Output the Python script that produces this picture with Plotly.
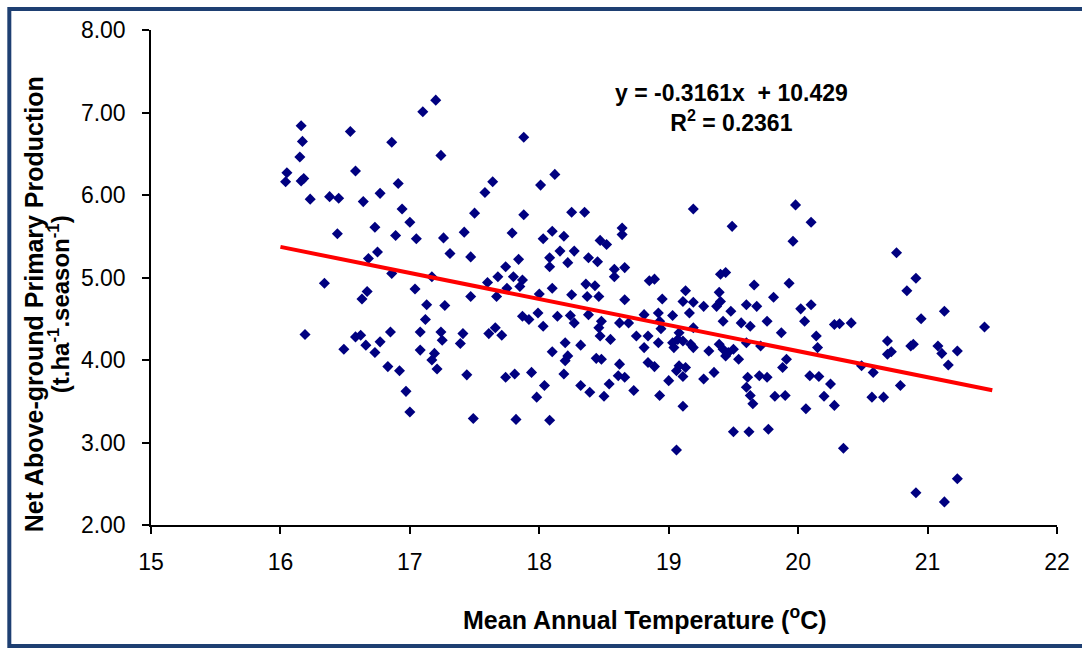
import plotly.graph_objects as go

# Mean annual temperature (degC) for each site
temperature = [
    16.16, 16.17, 16.15, 16.05, 16.04, 16.16, 16.18, 16.23, 16.54, 16.58,
    16.38, 16.45, 16.64, 16.77, 16.44, 16.73, 16.75, 16.68, 16.34, 16.67,
    16.63, 16.19, 16.49, 16.58, 16.62, 16.66, 16.73, 16.77, 17.20, 17.10,
    16.86, 17.24, 17.88, 17.64, 17.58, 16.91, 18.01, 18.12, 16.94, 17.00,
    17.50, 17.88, 18.25, 18.35, 16.89, 17.05, 17.26, 17.42, 17.79, 18.03,
    18.10, 18.19, 18.47, 17.31, 17.47, 17.84, 18.08, 18.16, 18.27, 18.22,
    18.08, 18.38, 18.45, 16.86, 17.17, 17.74, 17.68, 17.80, 17.87, 17.60,
    17.85, 17.04, 17.75, 18.10, 18.36, 18.43, 17.47, 17.67, 18.25, 18.37,
    18.46, 18.52, 17.13, 17.27, 17.12, 16.85, 17.08, 17.24, 17.41, 17.25,
    17.39, 17.61, 17.66, 17.71, 17.08, 17.19, 17.17, 17.21, 16.83, 16.92,
    17.44, 16.97, 17.00, 17.49, 17.74, 17.81, 17.94, 18.04, 17.98, 17.82,
    18.08, 18.00, 17.87, 17.92, 17.99, 18.03, 18.14, 18.24, 18.27, 18.38,
    18.48, 18.46, 18.47, 18.20, 18.32, 18.10, 18.22, 18.20, 18.44, 18.48,
    18.19, 18.32, 18.39, 18.50, 18.66, 18.95, 19.13, 19.11, 19.19, 19.27,
    19.39, 19.40, 19.37, 19.48, 19.60, 19.68, 19.81, 20.02, 20.10, 20.05,
    18.62, 18.69, 18.81, 18.92, 18.93, 19.03, 19.16, 18.94, 19.08, 19.11,
    19.19, 19.42, 19.56, 19.63, 19.76, 19.87, 20.14, 20.28, 18.55, 18.75,
    18.84, 18.81, 18.92, 19.03, 19.07, 19.04, 19.17, 19.19, 19.31, 19.39,
    19.42, 19.46, 19.44, 19.50, 19.54, 19.60, 19.71, 20.15, 18.62, 18.61,
    18.66, 18.84, 18.89, 19.08, 19.13, 19.06, 19.11, 19.00, 19.27, 19.35,
    19.61, 19.70, 19.76, 19.60, 19.63, 19.65, 19.82, 19.90, 19.88, 19.91,
    20.09, 20.16, 20.25, 20.20, 20.06, 20.28, 18.54, 18.73, 18.93, 19.11,
    19.50, 19.62, 19.77, 19.06, 19.19, 19.49, 19.98, 20.10, 19.96, 18.64,
    18.64, 18.58, 18.58, 18.66, 18.85, 18.89, 19.40, 19.44, 19.66, 19.93,
    20.76, 20.91, 20.84, 21.13, 20.95, 20.32, 20.41, 21.44, 20.69, 20.69,
    20.72, 20.87, 20.89, 21.08, 21.11, 21.23, 21.16, 20.49, 20.58, 20.79,
    20.57, 20.66, 20.35, 20.91, 21.13, 21.23,
]

# Net above-ground primary production (t/ha per season) for each site
npp = [
    6.84, 6.65, 6.46, 6.27, 6.16, 6.17, 6.20, 5.95, 6.77, 6.29,
    5.98, 5.96, 5.92, 6.02, 5.53, 5.61, 5.31, 5.23, 4.93, 4.83,
    4.74, 4.31, 4.13, 4.28, 4.30, 4.18, 4.09, 4.22, 7.15, 7.01,
    6.64, 6.48, 6.70, 6.16, 6.03, 6.14, 6.12, 6.25, 5.83, 5.67,
    5.78, 5.76, 5.79, 5.79, 5.51, 5.47, 5.48, 5.55, 5.54, 5.47,
    5.56, 5.50, 5.45, 5.29, 5.25, 5.22, 5.24, 5.32, 5.32, 5.18,
    5.13, 5.24, 5.19, 5.05, 5.01, 5.13, 5.01, 5.01, 4.97, 4.94,
    4.89, 4.86, 4.87, 4.87, 4.92, 4.90, 4.77, 4.77, 4.79, 4.77,
    4.77, 5.40, 4.67, 4.66, 4.49, 4.34, 4.34, 4.34, 4.32, 4.24,
    4.20, 4.32, 4.39, 4.30, 4.12, 4.08, 4.00, 3.89, 3.92, 3.87,
    3.82, 3.62, 3.37, 3.29, 3.79, 3.83, 3.85, 3.69, 3.55, 3.28,
    3.27, 4.80, 4.53, 4.49, 4.57, 4.41, 4.53, 4.54, 4.45, 4.55,
    4.47, 4.39, 4.29, 4.21, 4.18, 4.10, 4.05, 3.99, 4.02, 4.01,
    3.83, 3.69, 3.61, 3.56, 4.73, 4.74, 4.84, 4.71, 4.70, 4.65,
    4.82, 4.71, 4.65, 4.59, 4.67, 4.65, 4.76, 4.62, 4.67, 4.47,
    4.45, 4.45, 4.55, 4.57, 4.47, 4.54, 4.57, 4.38, 4.33, 4.23,
    4.39, 4.47, 4.45, 4.41, 4.47, 4.33, 4.29, 4.43, 4.25, 4.29,
    4.29, 4.15, 4.21, 4.21, 4.25, 4.15, 4.19, 4.15, 4.11, 4.19,
    4.13, 4.09, 4.05, 4.13, 4.01, 4.21, 4.17, 4.15, 3.95, 3.81,
    3.79, 3.97, 3.92, 3.93, 3.91, 3.87, 3.80, 3.75, 3.77, 3.85,
    3.79, 3.81, 3.79, 3.67, 3.57, 3.47, 3.56, 3.57, 3.91, 4.01,
    3.81, 3.80, 3.71, 3.56, 3.41, 3.45, 3.71, 3.63, 3.57, 3.44,
    3.13, 3.13, 3.16, 2.91, 5.83, 5.62, 5.88, 5.67, 5.44, 5.60,
    5.52, 5.10, 5.01, 5.12, 4.96, 4.98, 5.04, 5.06, 4.91, 4.93,
    5.30, 4.99, 4.84, 4.59, 4.50, 4.44, 4.45, 4.40, 4.23, 4.07,
    4.10, 4.17, 4.19, 4.17, 4.08, 4.11, 3.94, 3.93, 3.85, 3.69,
    3.55, 3.55, 2.93, 2.39, 2.28, 2.56,
]

# Linear fit reported on the chart
slope = -0.3161
intercept = 10.429
r_squared = 0.2361
trend_x = [16.0, 21.5]
trend_y = [slope * t + intercept for t in trend_x]

FONT = "Liberation Sans, Arial, sans-serif"

fig = go.Figure()

fig.add_trace(go.Scatter(
    x=temperature, y=npp, mode="markers",
    marker=dict(symbol="diamond", size=8.5, color="#000080", line=dict(width=0)),
    hoverinfo="x+y", showlegend=False,
))

fig.add_trace(go.Scatter(
    x=trend_x, y=trend_y, mode="lines",
    line=dict(color="#FF0000", width=4),
    hoverinfo="skip", showlegend=False,
))

axis_common = dict(
    showline=True, linecolor="black", linewidth=1.5,
    ticks="outside", ticklen=7, tickwidth=1.5, tickcolor="black",
    showgrid=False, zeroline=False,
    tickfont=dict(family=FONT, size=23, color="black"),
)

fig.update_xaxes(range=[15, 22], dtick=1, tick0=15, ticklabelstandoff=9, **axis_common)
fig.update_yaxes(range=[2, 8], dtick=1, tick0=2, tickformat=".2f", ticklabelstandoff=12, **axis_common)

eq_text = (f"y = {slope}x  + {intercept}<br>"
           f"R<sup>2</sup> = {r_squared}")

fig.update_layout(
    width=1082, height=648,
    margin=dict(l=151, r=23, t=30, b=123),
    paper_bgcolor="white", plot_bgcolor="white",
    font=dict(family=FONT, color="black"),
    annotations=[
        dict(text=eq_text, x=0.641, y=0.842, xref="paper", yref="paper",
             showarrow=False, xanchor="center", yanchor="middle",
             font=dict(family=FONT, size=23, color="black", weight="bold")),
        dict(text="Mean Annual Temperature (<sup>o</sup>C)",
             x=0.545, y=-0.188, xref="paper", yref="paper",
             showarrow=False, xanchor="center", yanchor="middle",
             font=dict(family=FONT, size=25, color="black", weight="bold")),
        dict(text="Net Above-ground Primary Production",
             x=(34 - 151) / 908, y=(525 - 304) / 495, xref="paper", yref="paper",
             textangle=-90, showarrow=False, xanchor="center", yanchor="middle",
             font=dict(family=FONT, size=25, color="black", weight="bold")),
        dict(text="(t.ha<sup>-1</sup>.season<sup>-1</sup>)",
             x=(59 - 151) / 908, y=(525 - 304) / 495, xref="paper", yref="paper",
             textangle=-90, showarrow=False, xanchor="center", yanchor="middle",
             font=dict(family=FONT, size=24, color="black", weight="bold")),
    ],
    shapes=[
        dict(type="rect", xref="paper", yref="paper",
             x0=(9 - 151) / 908, x1=(1090 - 151) / 908,
             y0=(525 - 646) / 495, y1=(525 - 9) / 495,
             line=dict(color="#1E3F72", width=4), fillcolor="rgba(0,0,0,0)",
             layer="above"),
    ],
)

fig.write_html("out.html")
